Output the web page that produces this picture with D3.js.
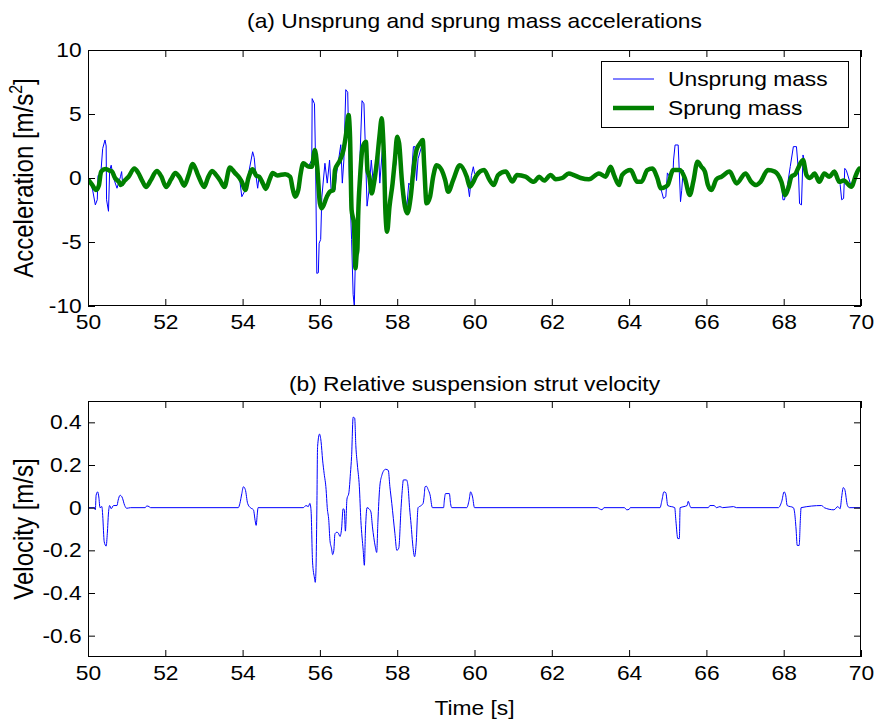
<!DOCTYPE html>
<html>
<head>
<meta charset="utf-8">
<script src="https://cdn.jsdelivr.net/npm/d3@7"></script>
<style>
  body { margin: 0; background: #fff; }
  svg { display: block; }
</style>
</head>
<body>
<div id="chart"></div>
<script>
// time ticks shared by both panels
const timeTicks = [50, 52, 54, 56, 58, 60, 62, 64, 66, 68, 70];
const accelTicks = [-10, -5, 0, 5, 10];
const velTicks = [-0.6, -0.4, -0.2, 0, 0.2, 0.4];

// sprung mass acceleration [t, m/s^2]
const sprung = [
  [50.00, -0.1], [50.10, -0.5], [50.21, -0.94], [50.28, -0.6], [50.34, 0.5], [50.45, 0.7], [50.54, 0.6],
  [50.62, 0.5], [50.70, 0.0], [50.80, -0.3], [50.85, -0.55], [50.95, -0.2], [51.05, 0.1], [51.20, 0.75],
  [51.30, 0.4], [51.40, -0.2], [51.50, -0.7], [51.62, -0.2], [51.78, 0.55], [51.90, 0.1], [52.02, -0.7],
  [52.15, -0.1], [52.26, 0.4], [52.38, 0.0], [52.49, -0.6], [52.60, 0.2], [52.71, 1.1], [52.85, 0.2],
  [53.01, -0.7], [53.10, 0.0], [53.21, 0.55], [53.30, 0.3], [53.42, -0.2], [53.53, -0.7], [53.67, 0.83],
  [53.80, 0.4], [53.92, 0.0], [53.98, -0.3], [54.07, -0.94], [54.15, 0.0], [54.26, 0.68], [54.35, 0.2],
  [54.43, 0.1], [54.52, -0.4], [54.60, -0.85], [54.70, -0.1], [54.78, 0.4], [54.90, 0.2], [55.10, 0.3],
  [55.23, 0.1], [55.30, -0.9], [55.36, -1.46], [55.44, -0.94], [55.50, 0.3], [55.57, 1.15], [55.70, 0.9],
  [55.79, 0.88], [55.87, 2.19], [55.93, 0.9], [56.00, -1.98], [56.05, -2.37], [56.18, -1.46], [56.26, -1.07],
  [56.35, -0.94], [56.39, 0.62], [56.52, 1.4], [56.61, 2.19], [56.68, 3.5], [56.74, 4.92], [56.78, 3.2],
  [56.82, -2.5], [56.88, -3.54], [56.92, -7.06], [56.95, -6.0], [56.97, -5.6], [56.99, -3.0], [57.04, 0.1],
  [57.11, 2.45], [57.19, 2.84], [57.23, 0.62], [57.28, 0.1], [57.34, -1.2], [57.40, -0.4], [57.47, 1.15],
  [57.54, 3.23], [57.60, 4.66], [57.63, 3.5], [57.66, 1.4], [57.69, -2.24], [57.74, -4.2], [57.80, -2.24],
  [57.88, -0.42], [57.94, 1.4], [58.00, 3.23], [58.05, 2.7], [58.12, -0.15], [58.20, -2.24], [58.26, -2.76],
  [58.35, -1.46], [58.42, 0.62], [58.50, 2.19], [58.59, 2.7], [58.66, 2.97], [58.70, 0.88], [58.76, -1.98],
  [58.85, -1.46], [58.93, 0.1], [59.02, 1.0], [59.15, 0.62], [59.24, -0.15], [59.32, -1.07], [59.45, -0.15],
  [59.62, 1.0], [59.80, 0.1], [59.88, -0.68], [59.97, -0.3], [60.05, 0.2], [60.25, 0.62], [60.38, -0.1],
  [60.50, -0.55], [60.61, 0.23], [60.81, 0.5], [60.98, -0.28], [61.10, 0.23], [61.32, 0.1], [61.54, -0.3],
  [61.67, 0.1], [61.80, -0.2], [61.97, 0.23], [62.10, -0.1], [62.27, 0.0], [62.44, 0.36], [62.57, 0.23],
  [62.75, 0.0], [62.96, -0.1], [63.22, 0.36], [63.39, 0.1], [63.52, 0.88], [63.61, 0.23], [63.74, -0.55],
  [63.82, 0.23], [64.04, 0.62], [64.21, -0.3], [64.32, -0.3], [64.47, 0.62], [64.60, 0.75], [64.73, 0.0],
  [64.82, -0.81], [64.95, -0.68], [65.00, -0.55], [65.14, 0.62], [65.31, 0.62], [65.44, 0.0], [65.57, -1.33],
  [65.66, -0.3], [65.77, 1.27], [65.87, 0.88], [65.96, 0.5], [66.04, -0.55], [66.13, -0.94], [66.26, -0.1],
  [66.39, 0.1], [66.60, 0.5], [66.78, -0.42], [67.01, 0.36], [67.16, -0.3], [67.29, -0.55], [67.40, -0.3],
  [67.59, 0.62], [67.77, 0.5], [67.94, -0.3], [68.04, -1.33], [68.13, -0.68], [68.20, 0.1], [68.30, 0.3],
  [68.37, 0.75], [68.50, 1.4], [68.59, 0.23], [68.68, 0.0], [68.80, 0.36], [68.92, -0.3], [69.05, 0.36],
  [69.18, 0.1], [69.31, 0.5], [69.44, -0.3], [69.55, -0.2], [69.75, -0.68], [69.87, 0.23], [69.96, 0.75],
  [70.00, 0.7]
];

// unsprung mass acceleration [t, m/s^2]
const unsprung = [
  [50.00, 0.0], [50.05, -0.2], [50.12, -0.94], [50.19, -2.1], [50.24, -1.7], [50.26, 0.2], [50.33, 0.3],
  [50.38, 2.3], [50.44, 2.97], [50.47, 2.5], [50.48, -1.7], [50.53, -2.6], [50.56, 0.6], [50.60, 1.0],
  [50.65, 0.1], [50.75, -0.8], [50.84, 0.1], [50.87, 0.5], [50.90, -0.6], [50.95, -0.2], [51.05, 0.1],
  [51.20, 0.75], [51.30, 0.4], [51.40, -0.2], [51.50, -0.7], [51.62, -0.2], [51.78, 0.55], [51.90, 0.1],
  [52.02, -0.7], [52.15, -0.1], [52.26, 0.4], [52.38, 0.0], [52.49, -0.6], [52.60, 0.2], [52.71, 1.1],
  [52.85, 0.2], [53.01, -0.7], [53.10, 0.0], [53.21, 0.55], [53.30, 0.3], [53.42, -0.2], [53.53, -0.7],
  [53.67, 0.83], [53.80, 0.4], [53.92, 0.0], [53.98, -1.46], [54.07, -0.94], [54.17, 0.6], [54.26, 2.05],
  [54.30, 1.6], [54.34, 0.3], [54.39, -0.8], [54.43, 0.2], [54.52, -0.4], [54.60, -0.85], [54.70, -0.1],
  [54.78, 0.4], [54.90, 0.2], [55.10, 0.3], [55.23, 0.1], [55.30, -0.9], [55.36, -1.46], [55.44, -0.94],
  [55.50, 0.3], [55.57, 1.15], [55.70, 0.9], [55.79, 1.4], [55.80, 6.2], [55.86, 5.8], [55.89, 0.88],
  [55.92, -7.45], [55.96, -7.4], [55.98, -5.1], [56.02, -4.8], [56.05, -1.5], [56.13, 1.15], [56.19, -0.4],
  [56.25, 1.4], [56.29, -0.9], [56.39, -0.94], [56.43, 0.3], [56.54, 2.6], [56.58, -0.4], [56.62, 1.4],
  [56.67, 6.9], [56.72, 6.7], [56.76, 0.36], [56.82, -4.8], [56.86, -9.1], [56.89, -10.0], [56.93, -4.8],
  [57.00, -2.5], [57.04, 1.9], [57.09, 6.04], [57.14, 5.8], [57.17, 3.0], [57.22, -2.2], [57.27, -1.0],
  [57.33, 1.4], [57.38, -0.4], [57.45, 1.4], [57.51, 2.7], [57.55, -0.4], [57.64, 3.2], [57.68, -0.6],
  [57.74, -3.5], [57.80, -2.24], [57.88, -0.42], [57.97, 1.15], [58.00, 3.23], [58.05, 2.7], [58.12, -0.15],
  [58.20, -1.5], [58.25, -2.2], [58.30, -0.4], [58.35, -0.6], [58.42, 2.45], [58.46, 2.45], [58.50, -0.2],
  [58.54, 1.5], [58.63, 2.45], [58.68, 2.2], [58.76, -1.98], [58.85, -1.46], [58.93, 0.1], [59.02, 1.0],
  [59.15, 0.62], [59.24, -0.15], [59.28, -0.68], [59.32, -1.07], [59.45, -0.15], [59.62, 1.0], [59.80, 0.1],
  [59.87, -1.46], [59.92, 0.2], [59.97, 0.88], [60.00, 0.36], [60.05, 0.2], [60.25, 0.62], [60.38, -0.1],
  [60.50, -0.55], [60.61, 0.23], [60.81, 0.5], [60.98, -0.28], [61.10, 0.23], [61.32, 0.1], [61.54, -0.3],
  [61.67, 0.1], [61.80, -0.2], [61.97, 0.23], [62.10, -0.1], [62.27, 0.0], [62.44, 0.36], [62.57, 0.23],
  [62.75, 0.0], [62.96, -0.1], [63.22, 0.36], [63.39, 0.1], [63.52, 0.88], [63.61, 0.23], [63.74, -0.55],
  [63.82, 0.23], [64.04, 0.62], [64.21, -0.3], [64.32, -0.3], [64.47, 0.62], [64.60, 0.75], [64.73, 0.0],
  [64.82, -0.81], [64.89, -1.6], [64.95, -1.46], [64.99, 0.4], [65.05, 0.1], [65.14, 0.62], [65.15, 1.4],
  [65.19, 2.58], [65.27, 2.58], [65.30, 0.4], [65.33, -1.85], [65.36, -1.0], [65.40, 0.6], [65.44, 0.0],
  [65.57, -1.33], [65.66, -0.3], [65.77, 1.27], [65.87, 0.88], [65.96, 0.5], [66.04, -0.55], [66.13, -0.94],
  [66.26, -0.1], [66.39, 0.1], [66.60, 0.5], [66.78, -0.42], [67.01, 0.36], [67.16, -0.3], [67.29, -0.55],
  [67.40, -0.3], [67.59, 0.62], [67.77, 0.5], [67.94, -0.3], [67.98, -1.7], [68.02, -1.7], [68.10, -0.5],
  [68.17, 0.9], [68.25, 2.45], [68.33, 2.45], [68.38, 0.6], [68.41, -2.0], [68.46, -2.1], [68.50, 1.8],
  [68.53, 1.4], [68.59, 0.23], [68.68, 0.0], [68.80, 0.36], [68.92, -0.3], [69.05, 0.36], [69.18, 0.1],
  [69.31, 0.5], [69.44, -0.3], [69.46, -0.5], [69.50, -1.7], [69.55, -1.6], [69.58, 0.75], [69.62, 0.6],
  [69.75, -0.68], [69.87, 0.23], [69.96, 0.75], [70.00, 0.7]
];

// relative suspension strut velocity [t, m/s]
const velocity = [
  [50.00, 0], [50.17, 0], [50.19, -0.01], [50.21, 0.058], [50.25, 0.074], [50.28, 0.05], [50.31, 0],
  [50.36, 0.005], [50.38, -0.036], [50.42, -0.16], [50.47, -0.18], [50.50, -0.12], [50.53, -0.025],
  [50.56, 0.01], [50.60, -0.005], [50.66, 0.01], [50.75, 0.01], [50.78, 0.035], [50.83, 0.058], [50.88, 0.05],
  [50.95, 0.01], [51.00, -0.003], [51.10, 0], [51.48, 0], [51.52, 0.008], [51.58, 0.005], [51.62, 0],
  [53.89, 0], [53.93, 0.02], [53.98, 0.066], [54.02, 0.098], [54.07, 0.085], [54.13, 0.02], [54.20, 0],
  [54.28, -0.01], [54.33, -0.067], [54.35, -0.083], [54.38, -0.03], [54.40, 0], [55.57, 0], [55.64, 0.01],
  [55.70, 0.005], [55.74, 0.02], [55.77, -0.01], [55.81, -0.255], [55.86, -0.33], [55.88, -0.35], [55.90, -0.28],
  [55.92, -0.03], [55.94, 0.286], [55.99, 0.345], [56.03, 0.31], [56.07, 0.223], [56.11, 0.16], [56.16, 0.086],
  [56.19, 0], [56.23, -0.06], [56.26, -0.153], [56.30, -0.19], [56.33, -0.22], [56.36, -0.2], [56.39, -0.122],
  [56.44, -0.115], [56.48, -0.12], [56.52, -0.135], [56.56, -0.1], [56.60, -0.005], [56.63, -0.01],
  [56.66, -0.11], [56.70, 0.04], [56.75, 0.07], [56.79, 0.16], [56.82, 0.24], [56.86, 0.424], [56.90, 0.42],
  [56.93, 0.29], [56.97, 0.2], [57.02, 0.1], [57.06, -0.06], [57.12, -0.2], [57.15, -0.27], [57.18, -0.1],
  [57.22, 0], [57.27, -0.005], [57.32, -0.02], [57.36, -0.09], [57.43, -0.18], [57.47, -0.21], [57.50, -0.07],
  [57.55, 0.1], [57.60, 0.15], [57.64, 0.17], [57.70, 0.18], [57.77, 0.175], [57.81, 0.1], [57.86, 0.02],
  [57.94, -0.12], [57.99, -0.2], [58.04, -0.19], [58.10, 0], [58.13, 0.08], [58.16, 0.13], [58.24, 0.13],
  [58.28, 0.1], [58.32, 0], [58.36, -0.08], [58.40, -0.17], [58.45, -0.23], [58.49, -0.17], [58.54, 0],
  [58.62, 0.01], [58.67, 0.02], [58.70, 0.06], [58.72, 0.098], [58.76, 0.1], [58.80, 0.085], [58.85, 0.06],
  [58.91, 0], [59.20, 0], [59.22, 0.035], [59.25, 0.066], [59.35, 0.066], [59.38, 0.02], [59.41, 0],
  [59.80, 0], [59.86, 0.035], [59.90, 0.074], [59.95, 0.05], [60.00, 0], [63.18, 0], [63.23, -0.005],
  [63.30, -0.01], [63.35, 0], [63.88, 0], [63.94, -0.01], [64.00, -0.008], [64.03, 0], [64.80, 0],
  [64.85, 0.035], [64.90, 0.074], [64.95, 0.07], [65.00, 0.01], [65.18, 0], [65.21, -0.06], [65.26, -0.145],
  [65.30, -0.145], [65.32, 0], [65.42, 0.005], [65.50, 0.01], [65.53, 0.03], [65.57, 0.01], [65.60, 0],
  [66.05, 0], [66.09, 0.01], [66.20, 0.01], [66.26, 0], [66.35, 0.005], [66.42, 0], [66.70, 0.005],
  [66.78, 0], [67.86, 0], [67.95, 0.03], [68.01, 0.074], [68.05, 0.06], [68.09, 0.01], [68.25, 0],
  [68.28, -0.02], [68.32, -0.1], [68.35, -0.177], [68.40, -0.177], [68.43, -0.06], [68.45, 0], [68.98, 0.01],
  [69.05, 0], [69.30, -0.01], [69.40, 0.005], [69.46, -0.005], [69.50, 0.05], [69.54, 0.094], [69.58, 0.085],
  [69.65, 0.01], [69.70, 0], [70.00, 0]
];

const W = 874, H = 720;
const margin = {left: 88, right: 13};
const plotW = W - margin.left - margin.right;
const SX = 1.14; // the reference text is a bit wider than Arial
const font = "'Liberation Sans', Arial, sans-serif";

const svg = d3.select("#chart").append("svg")
    .attr("width", W)
    .attr("height", H);

// horizontal or rotated text, widened like the reference
function label(parent, x, y, str, size, rotate) {
    return parent.append("text")
        .attr("transform", "translate(" + x + "," + y + ")" +
            (rotate ? " rotate(-90) scale(1," + SX + ")" : " scale(" + SX + ",1)"))
        .attr("text-anchor", "middle")
        .attr("font-family", font)
        .attr("font-size", size)
        .attr("fill", "#000")
        .text(str);
}

function styleAxis(a) {
    a.select(".domain").remove();
    a.attr("font-family", font).attr("font-size", 20);
    a.selectAll("line").attr("stroke", "#000");
    a.selectAll("text").attr("fill", "#000").attr("transform", "scale(" + SX + ",1)");
}

function panel(top, h, yDomain, yTicks, clipId) {
    const x = d3.scaleLinear().domain([50, 70]).range([0, plotW]);
    const y = d3.scaleLinear().domain(yDomain).range([h, 0]);
    const g = svg.append("g").attr("transform", "translate(" + margin.left + "," + top + ")");

    g.append("clipPath").attr("id", clipId)
        .append("rect").attr("width", plotW).attr("height", h);
    const area = g.append("g").attr("clip-path", "url(#" + clipId + ")");

    const fmt = d => String(d);
    g.append("g").attr("transform", "translate(0," + h + ")")
        .call(d3.axisBottom(x).tickValues(timeTicks).tickSizeInner(-7).tickSizeOuter(0).tickPadding(9).tickFormat(fmt))
        .call(styleAxis);
    g.append("g")
        .call(d3.axisTop(x).tickValues(timeTicks).tickSizeInner(-7).tickSizeOuter(0).tickFormat(""))
        .call(styleAxis);
    g.append("g")
        .call(d3.axisLeft(y).tickValues(yTicks).tickSizeInner(-7).tickSizeOuter(0).tickPadding(5.5).tickFormat(fmt))
        .call(styleAxis);
    g.append("g").attr("transform", "translate(" + plotW + ",0)")
        .call(d3.axisRight(y).tickValues(yTicks).tickSizeInner(-7).tickSizeOuter(0).tickFormat(""))
        .call(styleAxis);

    g.append("rect")
        .attr("x", 0.5).attr("y", 0.5)
        .attr("width", plotW - 1).attr("height", h - 1)
        .attr("fill", "none").attr("stroke", "#000").attr("stroke-width", 1);

    return {g, area, x, y};
}

// (a) accelerations
const pa = panel(50, 256, [-10, 10], accelTicks, "clipA");
const lineA = d3.line().x(d => pa.x(d[0])).y(d => pa.y(d[1]));
const smoothA = d3.line().x(d => pa.x(d[0])).y(d => pa.y(d[1])).curve(d3.curveMonotoneX);
pa.area.append("path")
    .datum(unsprung)
    .attr("d", lineA)
    .attr("fill", "none")
    .attr("stroke", "#0000ff")
    .attr("stroke-width", 1);
pa.area.append("path")
    .datum(sprung)
    .attr("d", smoothA)
    .attr("fill", "none")
    .attr("stroke", "#008000")
    .attr("stroke-width", 4.5)
    .attr("stroke-linejoin", "round");

label(svg, 474.5, 28, "(a) Unsprung and sprung mass accelerations", 20, false);
const yl = label(svg, 33, 178, "Acceleration [m/s", 24, true);
yl.append("tspan").attr("font-size", 16).attr("baseline-shift", "super").text("2");
yl.append("tspan").text("]");

// legend
const lg = pa.g.append("g").attr("transform", "translate(513,11)");
lg.append("rect").attr("x", 0.5).attr("y", 0.5).attr("width", 247).attr("height", 66)
    .attr("fill", "#fff").attr("stroke", "#000").attr("stroke-width", 1);
const legendItems = [
    {name: "Unsprung mass", color: "#0000ff", width: 1},
    {name: "Sprung mass", color: "#008000", width: 4.5}
];
legendItems.forEach((it, i) => {
    const yy = 18 + i * 29;
    lg.append("line").attr("x1", 12).attr("x2", 53).attr("y1", yy).attr("y2", yy)
        .attr("stroke", it.color).attr("stroke-width", it.width);
    label(lg, 67, yy + 7, it.name, 20, false).attr("text-anchor", "start");
});

// (b) velocity
const pb = panel(401, 256, [-0.7, 0.5], velTicks, "clipB");
const lineB = d3.line().x(d => pb.x(d[0])).y(d => pb.y(d[1])).curve(d3.curveMonotoneX);
pb.area.append("path")
    .datum(velocity)
    .attr("d", lineB)
    .attr("fill", "none")
    .attr("stroke", "#0000ff")
    .attr("stroke-width", 1);

label(svg, 474.5, 391, "(b) Relative suspension strut velocity", 20, false);
label(svg, 33, 529, "Velocity [m/s]", 24, true);
label(svg, 474.5, 715, "Time [s]", 20, false);
</script>
</body>
</html>
